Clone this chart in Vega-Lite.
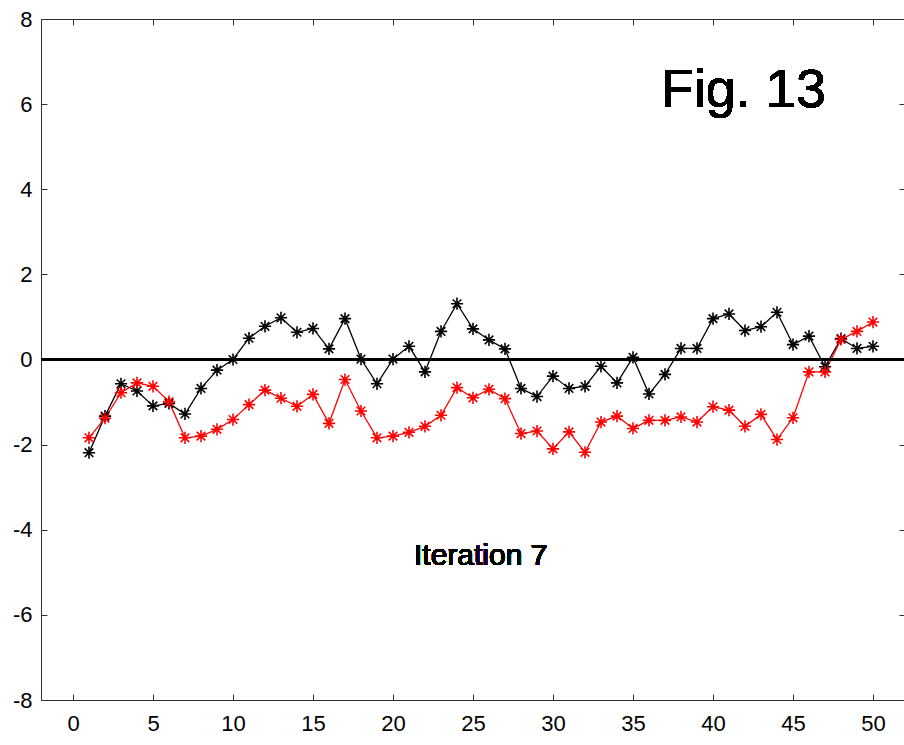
{
  "$schema": "https://vega.github.io/schema/vega-lite/v6.json",
  "width": 864,
  "height": 681,
  "autosize": {"type": "none"},
  "padding": {"left": 41, "top": 19, "right": 0, "bottom": 45},
  "background": "white",
  "config": {
    "font": "Liberation Sans",
    "view": {"stroke": "#333333", "strokeWidth": 1},
    "axis": {
      "grid": false,
      "domainColor": "#333333",
      "domainWidth": 1,
      "tickColor": "#333333",
      "tickWidth": 1,
      "tickSize": -6,
      "labelFont": "Liberation Sans",
      "labelFontSize": 22,
      "labelColor": "#000000",
      "labelExpr": "datum.value + ''",
      "title": null
    }
  },
  "datasets": {
    "series": [
      {"i": 1, "s": "black", "v": -2.19}, {"i": 2, "s": "black", "v": -1.33}, {"i": 3, "s": "black", "v": -0.57}, {"i": 4, "s": "black", "v": -0.74}, {"i": 5, "s": "black", "v": -1.09},
      {"i": 6, "s": "black", "v": -1.03}, {"i": 7, "s": "black", "v": -1.28}, {"i": 8, "s": "black", "v": -0.68}, {"i": 9, "s": "black", "v": -0.25}, {"i": 10, "s": "black", "v": 0.0},
      {"i": 11, "s": "black", "v": 0.5}, {"i": 12, "s": "black", "v": 0.78}, {"i": 13, "s": "black", "v": 0.98}, {"i": 14, "s": "black", "v": 0.64}, {"i": 15, "s": "black", "v": 0.73},
      {"i": 16, "s": "black", "v": 0.25}, {"i": 17, "s": "black", "v": 0.96}, {"i": 18, "s": "black", "v": 0.01}, {"i": 19, "s": "black", "v": -0.57}, {"i": 20, "s": "black", "v": 0.01},
      {"i": 21, "s": "black", "v": 0.31}, {"i": 22, "s": "black", "v": -0.29}, {"i": 23, "s": "black", "v": 0.66}, {"i": 24, "s": "black", "v": 1.31}, {"i": 25, "s": "black", "v": 0.72},
      {"i": 26, "s": "black", "v": 0.46}, {"i": 27, "s": "black", "v": 0.25}, {"i": 28, "s": "black", "v": -0.68}, {"i": 29, "s": "black", "v": -0.87}, {"i": 30, "s": "black", "v": -0.39},
      {"i": 31, "s": "black", "v": -0.68}, {"i": 32, "s": "black", "v": -0.63}, {"i": 33, "s": "black", "v": -0.16}, {"i": 34, "s": "black", "v": -0.55}, {"i": 35, "s": "black", "v": 0.05},
      {"i": 36, "s": "black", "v": -0.81}, {"i": 37, "s": "black", "v": -0.35}, {"i": 38, "s": "black", "v": 0.26}, {"i": 39, "s": "black", "v": 0.26}, {"i": 40, "s": "black", "v": 0.96},
      {"i": 41, "s": "black", "v": 1.07}, {"i": 42, "s": "black", "v": 0.68}, {"i": 43, "s": "black", "v": 0.77}, {"i": 44, "s": "black", "v": 1.11}, {"i": 45, "s": "black", "v": 0.35},
      {"i": 46, "s": "black", "v": 0.55}, {"i": 47, "s": "black", "v": -0.17}, {"i": 48, "s": "black", "v": 0.49}, {"i": 49, "s": "black", "v": 0.26}, {"i": 50, "s": "black", "v": 0.31},
      {"i": 1, "s": "red", "v": -1.84}, {"i": 2, "s": "red", "v": -1.38}, {"i": 3, "s": "red", "v": -0.78}, {"i": 4, "s": "red", "v": -0.55}, {"i": 5, "s": "red", "v": -0.63},
      {"i": 6, "s": "red", "v": -0.99}, {"i": 7, "s": "red", "v": -1.84}, {"i": 8, "s": "red", "v": -1.8}, {"i": 9, "s": "red", "v": -1.64}, {"i": 10, "s": "red", "v": -1.41},
      {"i": 11, "s": "red", "v": -1.06}, {"i": 12, "s": "red", "v": -0.72}, {"i": 13, "s": "red", "v": -0.91}, {"i": 14, "s": "red", "v": -1.1}, {"i": 15, "s": "red", "v": -0.82},
      {"i": 16, "s": "red", "v": -1.5}, {"i": 17, "s": "red", "v": -0.47}, {"i": 18, "s": "red", "v": -1.21}, {"i": 19, "s": "red", "v": -1.84}, {"i": 20, "s": "red", "v": -1.8},
      {"i": 21, "s": "red", "v": -1.71}, {"i": 22, "s": "red", "v": -1.57}, {"i": 23, "s": "red", "v": -1.31}, {"i": 24, "s": "red", "v": -0.66}, {"i": 25, "s": "red", "v": -0.9},
      {"i": 26, "s": "red", "v": -0.7}, {"i": 27, "s": "red", "v": -0.92}, {"i": 28, "s": "red", "v": -1.74}, {"i": 29, "s": "red", "v": -1.68}, {"i": 30, "s": "red", "v": -2.1},
      {"i": 31, "s": "red", "v": -1.7}, {"i": 32, "s": "red", "v": -2.18}, {"i": 33, "s": "red", "v": -1.47}, {"i": 34, "s": "red", "v": -1.33}, {"i": 35, "s": "red", "v": -1.62},
      {"i": 36, "s": "red", "v": -1.43}, {"i": 37, "s": "red", "v": -1.43}, {"i": 38, "s": "red", "v": -1.35}, {"i": 39, "s": "red", "v": -1.47}, {"i": 40, "s": "red", "v": -1.11},
      {"i": 41, "s": "red", "v": -1.19}, {"i": 42, "s": "red", "v": -1.57}, {"i": 43, "s": "red", "v": -1.29}, {"i": 44, "s": "red", "v": -1.88}, {"i": 45, "s": "red", "v": -1.37},
      {"i": 46, "s": "red", "v": -0.29}, {"i": 47, "s": "red", "v": -0.29}, {"i": 48, "s": "red", "v": 0.47}, {"i": 49, "s": "red", "v": 0.66}, {"i": 50, "s": "red", "v": 0.88}
    ]
  },
  "data": {"name": "series"},
  "layer": [
    {
      "mark": {"type": "line", "strokeWidth": 1.3},
      "encoding": {
        "x": {"field": "i", "type": "quantitative", "scale": {"domain": [-2, 52], "nice": false, "zero": false},
              "axis": {"orient": "bottom", "values": [0, 5, 10, 15, 20, 25, 30, 35, 40, 45, 50], "labelPadding": 19}},
        "y": {"field": "v", "type": "quantitative", "scale": {"domain": [-8, 8], "nice": false},
              "axis": {"orient": "left", "values": [-8, -6, -4, -2, 0, 2, 4, 6, 8], "labelPadding": 15}},
        "color": {"field": "s", "type": "nominal", "scale": {"domain": ["black", "red"], "range": ["#000000", "#ff0000"]}, "legend": null}
      }
    },
    {
      "mark": {"type": "point", "shape": "M-1,0L1,0M0,-1L0,1M-0.7,-0.7L0.7,0.7M-0.7,0.7L0.7,-0.7", "filled": false, "size": 150, "strokeWidth": 1.6, "opacity": 1},
      "encoding": {
        "x": {"field": "i", "type": "quantitative",
              "axis": {"orient": "top", "values": [0, 5, 10, 15, 20, 25, 30, 35, 40, 45, 50], "labels": false}},
        "y": {"field": "v", "type": "quantitative",
              "axis": {"orient": "right", "values": [-8, -6, -4, -2, 0, 2, 4, 6, 8], "labels": false}},
        "color": {"field": "s", "type": "nominal", "legend": null}
      }
    },
    {
      "mark": {"type": "rule", "color": "#000000", "strokeWidth": 1.3},
      "encoding": {"y": {"datum": 0, "type": "quantitative", "axis": null}}
    },
    {
      "mark": {"type": "text", "text": "Fig. 13", "font": "Liberation Sans", "fontSize": 54, "align": "center", "baseline": "alphabetic", "color": "#000000"},
      "encoding": {"x": {"datum": 41.9, "type": "quantitative", "axis": null}, "y": {"datum": 5.94, "type": "quantitative", "axis": null}}
    },
    {
      "mark": {"type": "text", "text": "Iteration 7", "font": "Liberation Sans", "fontSize": 30, "align": "center", "baseline": "alphabetic", "color": "#000000"},
      "encoding": {"x": {"datum": 25.48, "type": "quantitative", "axis": null}, "y": {"datum": -4.82, "type": "quantitative", "axis": null}}
    }
  ],
  "resolve": {"axis": {"x": "independent", "y": "independent"}}
}
